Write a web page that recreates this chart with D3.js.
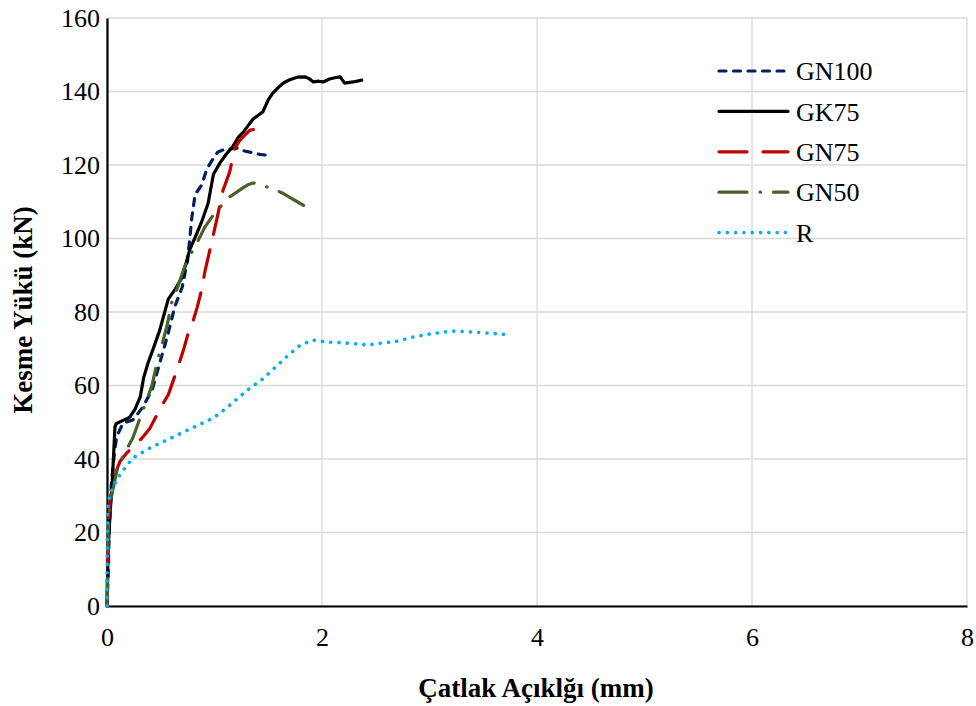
<!DOCTYPE html>
<html>
<head>
<meta charset="utf-8">
<script src="https://cdn.jsdelivr.net/npm/d3@7"></script>
<style>
  html, body { margin: 0; padding: 0; background: #fff; }
  svg { display: block; }
  svg text { font-family: "Liberation Serif", "Times New Roman", serif; fill: #000; }
</style>
</head>
<body>
<svg id="chart" width="976" height="706"></svg>
<script>
// Crack opening (mm) vs. shear load (kN) for each specimen
const seriesNames = ["GN100", "GK75", "GN75", "GN50", "R"];

const gn100X = [0, 0.01, 0.02, 0.04, 0.07, 0.09, 0.12, 0.15, 0.24, 0.33, 0.42, 0.49, 0.57, 0.63, 0.70, 0.75, 0.79, 0.82, 0.88, 0.93, 0.98, 1.03, 1.08, 1.15, 1.21, 1.28, 1.36, 1.42, 1.48];
const gn100Y = [0, 8, 20, 33, 42, 46, 48, 49.8, 50.6, 54, 58.8, 66, 74.3, 81.4, 86.8, 94.2, 105.9, 112, 114.5, 119, 121.4, 123.5, 124.1, 124.4, 124.6, 123.8, 123.3, 122.9, 122.7];

const gk75X = [0, 0.005, 0.01, 0.03, 0.045, 0.074, 0.084, 0.15, 0.21, 0.26, 0.31, 0.34, 0.38, 0.43, 0.49, 0.57, 0.63, 0.70, 0.77, 0.83, 0.88, 0.94, 0.99, 1.05, 1.11, 1.17, 1.22, 1.27, 1.32, 1.36, 1.45, 1.50, 1.54, 1.59, 1.64, 1.70, 1.77, 1.84, 1.88, 1.92, 1.97, 2.01, 2.07, 2.13, 2.17, 2.21, 2.29, 2.37];
const gk75Y = [0, 6, 15, 26, 31.5, 48.7, 49.6, 50.5, 51.3, 53.5, 57, 62, 66, 70, 75, 83.5, 86, 89.5, 97, 101, 104.5, 109.5, 117.5, 120.5, 123, 125, 127.5, 129, 131, 132.5, 134.5, 137.7, 139.5, 141, 142.3, 143.2, 143.9, 144, 143.5, 142.6, 142.8, 142.6, 143.4, 143.8, 144, 142.3, 142.6, 143.1];

const gn75X = [0, 0.005, 0.01, 0.03, 0.06, 0.09, 0.12, 0.18, 0.24, 0.32, 0.40, 0.47, 0.52, 0.57, 0.63, 0.67, 0.71, 0.75, 0.80, 0.84, 0.88, 0.91, 0.96, 1.02, 1.08, 1.14, 1.19, 1.23, 1.27, 1.33, 1.40, 1.47];
const gn75Y = [0, 10, 22, 29, 34.3, 37, 39.3, 41.5, 43.3, 45.5, 48.4, 52.3, 55, 57.5, 62.5, 66, 69.5, 73.7, 77.5, 81.4, 86, 90.9, 97.3, 105, 113.2, 118, 124.6, 126.5, 127.8, 129.5, 129.8, 130];

const gn50X = [0, 0.005, 0.01, 0.03, 0.06, 0.10, 0.17, 0.24, 0.31, 0.37, 0.42, 0.47, 0.52, 0.56, 0.60, 0.66, 0.73, 0.80, 0.85, 0.91, 0.98, 1.05, 1.14, 1.20, 1.26, 1.31, 1.36, 1.42, 1.49, 1.56, 1.63, 1.70, 1.77, 1.87];
const gn50Y = [0, 8, 20, 28, 32.5, 37.8, 42, 45.7, 51.4, 56, 60.2, 66.9, 72, 76.5, 82.4, 87, 93, 96.9, 99.6, 103.1, 106, 108.5, 111.3, 112.5, 113.7, 114.6, 115.1, 114.8, 114, 113.3, 112.4, 111.2, 110, 108.3];

const rX = [0, 0.002, 0.01, 0.03, 0.06, 0.09, 0.14, 0.24, 0.40, 0.56, 0.71, 0.85, 0.99, 1.10, 1.22, 1.33, 1.45, 1.56, 1.67, 1.78, 1.91, 2.05, 2.20, 2.34, 2.42, 2.57, 2.71, 2.85, 3.00, 3.15, 3.22, 3.37, 3.52, 3.67, 3.76];
const rY = [0, 15, 28, 30.5, 32.5, 34.3, 36.5, 40.3, 43, 45.2, 47.3, 49.2, 51.2, 53.6, 56.6, 59.3, 61.8, 64.8, 67.8, 70.6, 72.4, 71.8, 71.6, 71.3, 71, 71.6, 72.1, 73.2, 74, 74.6, 74.8, 74.6, 74.3, 74, 73.7];

const xTicks = [0, 2, 4, 6, 8];
const yTicks = [0, 20, 40, 60, 80, 100, 120, 140, 160];
const xTitle = "Çatlak Açıklğı (mm)";
const yTitle = "Kesme Yükü (kN)";

// Styling per series (stroke colour and dash pattern)
const styles = {
  GN100: { color: "#002060", dash: "7,7.5", width: 3.2 },
  GK75:  { color: "#000000", dash: null,    width: 3.2 },
  GN75:  { color: "#C00000", dash: "28,16", width: 3.2 },
  GN50:  { color: "#46622A", dash: "28,13,0.5,13", width: 3.2 },
  R:     { color: "#00B0F0", dash: "0.1,8.2", width: 3.6 }
};

const seriesData = {
  GN100: d3.zip(gn100X, gn100Y),
  GK75:  d3.zip(gk75X, gk75Y),
  GN75:  d3.zip(gn75X, gn75Y),
  GN50:  d3.zip(gn50X, gn50Y),
  R:     d3.zip(rX, rY)
};

const FONT = "Liberation Serif";
const svg = d3.select("#chart");
const plot = { left: 107, right: 967, top: 18, bottom: 606 };

const x = d3.scaleLinear().domain([0, 8]).range([plot.left, plot.right]);
const y = d3.scaleLinear().domain([0, 160]).range([plot.bottom, plot.top]);

// Gridlines
const grid = svg.append("g");
grid.selectAll("line.h").data(yTicks).join("line")
  .attr("x1", plot.left).attr("x2", plot.right)
  .attr("y1", d => y(d)).attr("y2", d => y(d))
  .attr("stroke", "#D9D9D9").attr("stroke-width", 1.3);
grid.selectAll("line.v").data(xTicks).join("line")
  .attr("y1", plot.top).attr("y2", plot.bottom)
  .attr("x1", d => x(d)).attr("x2", d => x(d))
  .attr("stroke", "#D9D9D9").attr("stroke-width", 1.3);

// Axes
const xAxis = d3.axisBottom(x).tickValues(xTicks).tickSize(0).tickPadding(22).tickFormat(d3.format("d"));
const yAxis = d3.axisLeft(y).tickValues(yTicks).tickSize(0).tickPadding(7).tickFormat(d3.format("d"));

const gx = svg.append("g").attr("transform", `translate(0,${plot.bottom})`).call(xAxis);
const gy = svg.append("g").attr("transform", `translate(${plot.left},0)`).call(yAxis);
[gx, gy].forEach(g => {
  g.attr("font-family", FONT).attr("font-size", 26);
  g.select(".domain").attr("stroke", "#000").attr("stroke-width", 2.2);
  g.selectAll("text").attr("fill", "#000")
    .attr("font-family", FONT).attr("font-size", 26);
});

// Series lines
const line = d3.line().x(d => x(d[0])).y(d => y(d[1])).curve(d3.curveLinear);
const linesG = svg.append("g");
seriesNames.forEach(name => {
  const s = styles[name];
  linesG.append("path")
    .datum(seriesData[name])
    .attr("d", line)
    .attr("fill", "none")
    .attr("stroke", s.color)
    .attr("stroke-width", s.width)
    .attr("stroke-linecap", "round")
    .attr("stroke-linejoin", "round")
    .attr("stroke-dasharray", s.dash);
});

// Axis titles
svg.append("text")
  .attr("x", 536).attr("y", 697)
  .attr("text-anchor", "middle")
  .attr("font-family", FONT).attr("font-size", 27).attr("font-weight", "bold")
  .text(xTitle);
svg.append("text")
  .attr("transform", "translate(32,310) rotate(-90)")
  .attr("text-anchor", "middle")
  .attr("font-family", FONT).attr("font-size", 27).attr("font-weight", "bold")
  .text(yTitle);

// Legend
const legend = svg.append("g");
seriesNames.forEach((name, i) => {
  const s = styles[name];
  const ly = 71 + i * 40.4;
  legend.append("line")
    .attr("x1", 719).attr("x2", 788)
    .attr("y1", ly).attr("y2", ly)
    .attr("stroke", s.color)
    .attr("stroke-width", s.width)
    .attr("stroke-linecap", "round")
    .attr("stroke-dasharray", s.dash);
  legend.append("text")
    .attr("x", 796).attr("y", ly)
    .attr("dy", "0.35em")
    .attr("font-family", FONT).attr("font-size", 26)
    .text(name);
});
</script>
</body>
</html>
